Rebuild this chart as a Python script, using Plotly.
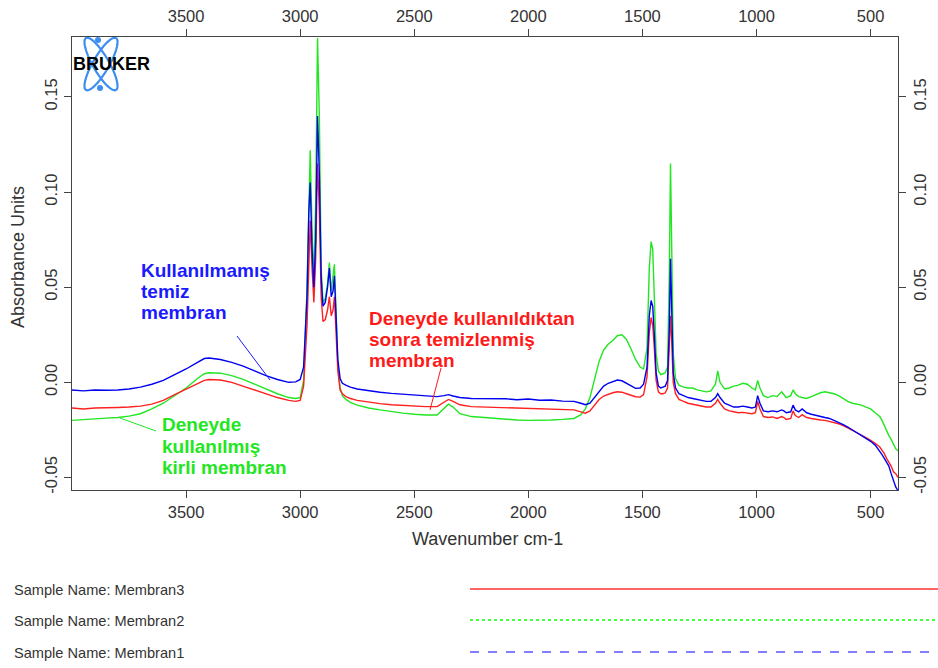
import numpy as np
import plotly.graph_objects as go

# ---------------- data ----------------
wavenumber = [
    4000, 3950, 3900, 3850, 3800, 3750, 3700, 3650, 3600, 3550,
    3500, 3450, 3420, 3400, 3350, 3300, 3250, 3200, 3150, 3100,
    3050, 3020, 3000, 2985, 2970, 2962, 2956, 2948, 2940, 2932,
    2924, 2916, 2908, 2900, 2890, 2880, 2872, 2864, 2856, 2850,
    2843, 2835, 2825, 2815, 2800, 2780, 2750, 2700, 2650, 2600,
    2550, 2500, 2450, 2400, 2370, 2350, 2330, 2300, 2250, 2200,
    2150, 2100, 2050, 2000, 1950, 1900, 1850, 1800, 1770, 1750,
    1730, 1710, 1690, 1670, 1650, 1630, 1610, 1590, 1570, 1550,
    1530, 1510, 1495, 1480, 1470, 1462, 1455, 1448, 1440, 1430,
    1420, 1410, 1400, 1390, 1382, 1377, 1372, 1365, 1355, 1340,
    1320, 1300, 1280, 1260, 1240, 1220, 1200, 1180, 1170, 1160,
    1140, 1120, 1100, 1080, 1060, 1040, 1020, 1005, 995, 985,
    970, 950, 930, 910, 890, 880, 870, 850, 840, 830,
    815, 800, 780, 760, 740, 720, 700, 680, 660, 640,
    620, 600, 580, 560, 540, 520, 500, 480, 460, 450,
    440, 430, 420, 410, 400, 390, 380,
]

membran1 = [  # blue - Kullanılmamış temiz membran
    -0.0040, -0.0045, -0.0040, -0.0042, -0.0040, -0.0035, -0.0025, -0.0010, 0.0010, 0.0040,
    0.0070, 0.0105, 0.0125, 0.0128, 0.0120, 0.0105, 0.0085, 0.0060, 0.0035, 0.0015,
    0.0000, 0.0002, 0.0015, 0.0080, 0.0450, 0.0900, 0.1050, 0.0700, 0.0500, 0.0750,
    0.1400, 0.1100, 0.0550, 0.0400, 0.0420, 0.0500, 0.0600, 0.0450, 0.0480, 0.0560,
    0.0350, 0.0120, 0.0020, -0.0005, -0.0015, -0.0025, -0.0035, -0.0045, -0.0052, -0.0058,
    -0.0062, -0.0066, -0.0070, -0.0075, -0.0070, -0.0065, -0.0072, -0.0080, -0.0085, -0.0085,
    -0.0088, -0.0086, -0.0092, -0.0088, -0.0094, -0.0093, -0.0099, -0.0100, -0.0110, -0.0118,
    -0.0110, -0.0080, -0.0045, -0.0020, -0.0005, 0.0005, 0.0012, 0.0008, -0.0005, -0.0020,
    -0.0032, -0.0030, -0.0010, 0.0080, 0.0350, 0.0430, 0.0400, 0.0250, 0.0050, -0.0020,
    -0.0030, -0.0025, -0.0020, 0.0010, 0.0300, 0.0650, 0.0350, 0.0050, -0.0030, -0.0060,
    -0.0070, -0.0080, -0.0085, -0.0090, -0.0095, -0.0100, -0.0100, -0.0080, -0.0060, -0.0080,
    -0.0110, -0.0120, -0.0130, -0.0130, -0.0125, -0.0130, -0.0135, -0.0130, -0.0070, -0.0110,
    -0.0150, -0.0155, -0.0150, -0.0155, -0.0145, -0.0150, -0.0160, -0.0155, -0.0120, -0.0145,
    -0.0155, -0.0140, -0.0160, -0.0168, -0.0175, -0.0180, -0.0185, -0.0190, -0.0200, -0.0210,
    -0.0222, -0.0235, -0.0250, -0.0265, -0.0280, -0.0295, -0.0310, -0.0330, -0.0360, -0.0380,
    -0.0400, -0.0420, -0.0440, -0.0480, -0.0520, -0.0550, -0.0570,
]

membran3 = [  # red - Deneyde kullanıldıktan sonra temizlenmiş membran
    -0.0135, -0.0140, -0.0135, -0.0135, -0.0132, -0.0130, -0.0125, -0.0115, -0.0095, -0.0065,
    -0.0035, -0.0005, 0.0010, 0.0015, 0.0012, 0.0000, -0.0020, -0.0040, -0.0060, -0.0080,
    -0.0095, -0.0100, -0.0095, -0.0020, 0.0300, 0.0700, 0.0850, 0.0600, 0.0420, 0.0650,
    0.1150, 0.0900, 0.0450, 0.0320, 0.0330, 0.0380, 0.0450, 0.0350, 0.0380, 0.0450,
    0.0280, 0.0060, -0.0040, -0.0060, -0.0075, -0.0085, -0.0095, -0.0105, -0.0112, -0.0118,
    -0.0122, -0.0125, -0.0128, -0.0128, -0.0105, -0.0090, -0.0100, -0.0118, -0.0128, -0.0130,
    -0.0132, -0.0132, -0.0133, -0.0135, -0.0137, -0.0140, -0.0142, -0.0145, -0.0155, -0.0162,
    -0.0150, -0.0120, -0.0090, -0.0072, -0.0062, -0.0055, -0.0050, -0.0052, -0.0060, -0.0068,
    -0.0076, -0.0078, -0.0065, 0.0030, 0.0260, 0.0340, 0.0300, 0.0180, 0.0010, -0.0050,
    -0.0060, -0.0060, -0.0055, -0.0030, 0.0200, 0.0350, 0.0220, 0.0000, -0.0060, -0.0090,
    -0.0100, -0.0110, -0.0115, -0.0120, -0.0125, -0.0130, -0.0130, -0.0110, -0.0090, -0.0110,
    -0.0140, -0.0150, -0.0155, -0.0160, -0.0158, -0.0160, -0.0165, -0.0160, -0.0100, -0.0140,
    -0.0180, -0.0185, -0.0182, -0.0190, -0.0180, -0.0185, -0.0195, -0.0190, -0.0150, -0.0175,
    -0.0185, -0.0170, -0.0185, -0.0190, -0.0195, -0.0198, -0.0200, -0.0205, -0.0210, -0.0218,
    -0.0228, -0.0240, -0.0252, -0.0262, -0.0275, -0.0290, -0.0305, -0.0320, -0.0340, -0.0355,
    -0.0375, -0.0400, -0.0420, -0.0440, -0.0470, -0.0480, -0.0500,
]

membran2 = [  # green - Deneyde kullanılmış kirli membran
    -0.0200, -0.0195, -0.0190, -0.0188, -0.0185, -0.0178, -0.0165, -0.0140, -0.0110, -0.0070,
    -0.0030, 0.0020, 0.0045, 0.0050, 0.0048, 0.0035, 0.0015, -0.0010, -0.0035, -0.0060,
    -0.0080, -0.0085, -0.0080, 0.0010, 0.0500, 0.1000, 0.1220, 0.0800, 0.0550, 0.0950,
    0.1810, 0.1400, 0.0600, 0.0420, 0.0440, 0.0520, 0.0630, 0.0480, 0.0550, 0.0620,
    0.0380, 0.0100, -0.0030, -0.0070, -0.0090, -0.0105, -0.0120, -0.0135, -0.0145, -0.0155,
    -0.0162, -0.0168, -0.0172, -0.0172, -0.0140, -0.0115, -0.0130, -0.0165, -0.0180, -0.0185,
    -0.0190, -0.0195, -0.0198, -0.0200, -0.0200, -0.0198, -0.0195, -0.0190, -0.0170, -0.0140,
    -0.0080, 0.0020, 0.0110, 0.0170, 0.0200, 0.0220, 0.0245, 0.0250, 0.0225, 0.0175,
    0.0120, 0.0080, 0.0070, 0.0180, 0.0600, 0.0740, 0.0700, 0.0450, 0.0150, 0.0060,
    0.0040, 0.0045, 0.0050, 0.0080, 0.0600, 0.1150, 0.0650, 0.0150, 0.0020, -0.0015,
    -0.0025, -0.0030, -0.0030, -0.0040, -0.0045, -0.0050, -0.0045, -0.0010, 0.0060, 0.0000,
    -0.0035, -0.0030, -0.0020, -0.0015, -0.0005, -0.0010, -0.0030, -0.0040, 0.0010, -0.0030,
    -0.0070, -0.0080, -0.0070, -0.0075, -0.0050, -0.0065, -0.0080, -0.0070, -0.0040, -0.0060,
    -0.0075, -0.0080, -0.0085, -0.0075, -0.0065, -0.0055, -0.0050, -0.0055, -0.0060, -0.0070,
    -0.0085, -0.0100, -0.0110, -0.0115, -0.0120, -0.0130, -0.0140, -0.0160, -0.0180, -0.0200,
    -0.0230, -0.0250, -0.0280, -0.0300, -0.0330, -0.0350, -0.0360,
]

x_ticks = [3500, 3000, 2500, 2000, 1500, 1000, 500]
y_ticks = [-0.05, 0.00, 0.05, 0.10, 0.15]
y_tick_text = ["-0.05", "0.00", "0.05", "0.10", "0.15"]
legend_names = ["Sample Name: Membran3", "Sample Name: Membran2", "Sample Name: Membran1"]
label_blue = ["Kullanılmamış", "temiz", "membran"]
label_red = ["Deneyde kullanıldıktan", "sonra temizlenmiş", "membran"]
label_green = ["Deneyde", "kullanılmış", "kirli membran"]

assert len(wavenumber) == len(membran1) == len(membran2) == len(membran3)

# ---------------- figure ----------------
W, H = 938, 668
L, R, T, B = 72, 40, 37, 178
PW, PH = W - L - R, H - T - B
FONT = "Liberation Sans, Arial, sans-serif"

def px(x):
    return (x - L) / PW

def py(y):
    return (H - B - y) / PH

X_RANGE = [4000, 380]
Y_RANGE = [-0.0566, 0.1815]

fig = go.Figure()
series = [
    (membran2, "#22e622", "Membran2"),
    (membran3, "#ff2020", "Membran3"),
    (membran1, "#0000f0", "Membran1"),
]
for vals, col, name in series:
    fig.add_trace(go.Scatter(x=wavenumber, y=vals, mode="lines", name=name,
                             line=dict(color=col, width=1.4), showlegend=False,
                             hoverinfo="x+y"))
# invisible trace to activate the top / right mirror axes
fig.add_trace(go.Scatter(x=wavenumber, y=membran1, xaxis="x2", yaxis="y2",
                         mode="lines", line=dict(color="rgba(0,0,0,0)", width=0),
                         showlegend=False, hoverinfo="skip"))

axis_common = dict(ticks="outside", ticklen=7, tickcolor="#444", tickwidth=1,
                   tickfont=dict(family=FONT, size=16.5, color="#333"),
                   showgrid=False, zeroline=False)

fig.update_layout(
    width=W, height=H,
    margin=dict(l=L, r=R, t=T, b=B, autoexpand=False),
    paper_bgcolor="white", plot_bgcolor="white",
    font=dict(family=FONT, color="#333"),
    xaxis=dict(range=X_RANGE, tickvals=x_ticks, showline=True, linecolor="#444",
               mirror=True, **axis_common),
    xaxis2=dict(range=X_RANGE, tickvals=x_ticks, overlaying="x", side="top",
                showline=False, **axis_common),
    yaxis=dict(range=Y_RANGE, tickvals=y_ticks, ticktext=y_tick_text, tickangle=-90,
               showline=True, linecolor="#444", mirror=True, **axis_common),
    yaxis2=dict(range=Y_RANGE, tickvals=y_ticks, ticktext=y_tick_text, tickangle=-90,
                overlaying="y", side="right", showline=False, **axis_common),
)

annotations = [
    dict(x=px(487), y=py(539), text="Wavenumber cm-1", textangle=0,
         font=dict(size=18, color="#333")),
    dict(x=px(18), y=py(257), text="Absorbance Units", textangle=-90,
         font=dict(size=18, color="#333")),
    dict(x=px(111), y=py(64), text="<b>BRUKER</b>",
         font=dict(size=18, color="black")),
]
for lines, x0, ys, col in [
    (label_blue, 139, [270, 291, 312], "#1a1aff"),
    (label_red, 367, [318, 339, 360], "#ff1a1a"),
    (label_green, 160, [425, 446, 467], "#22e622"),
]:
    for txt, yy in zip(lines, ys):
        annotations.append(dict(x=px(x0), y=py(yy), xanchor="left", text=f"<b>{txt}</b>",
                                font=dict(size=19, color=col)))
for name, yy in zip(legend_names, [590, 621, 653]):
    annotations.append(dict(x=px(12), y=py(yy), xanchor="left", text=name,
                            font=dict(size=14.6, color="#333")))
for a in annotations:
    a.setdefault("xanchor", "center")
    a.update(xref="paper", yref="paper", showarrow=False, yanchor="middle")
fig.update_layout(annotations=annotations)

shapes = []
# pointer lines
shapes.append(dict(type="line", x0=px(237), y0=py(336), x1=px(270), y1=py(380),
                   line=dict(color="#1a1aff", width=1)))
shapes.append(dict(type="line", x0=px(441), y0=py(368), x1=px(430), y1=py(410),
                   line=dict(color="#ff1a1a", width=1)))
shapes.append(dict(type="line", x0=px(156), y0=py(431), x1=px(120), y1=py(418),
                   line=dict(color="#22e622", width=1)))
# legend sample lines
shapes.append(dict(type="line", x0=px(470), y0=py(589), x1=px(938), y1=py(589),
                   line=dict(color="#ff3030", width=1.5)))
shapes.append(dict(type="line", x0=px(470), y0=py(620), x1=px(938), y1=py(620),
                   line=dict(color="#44ff44", width=2, dash="dot")))
shapes.append(dict(type="line", x0=px(470), y0=py(652), x1=px(938), y1=py(652),
                   line=dict(color="#8080ff", width=2, dash="dash")))

# BRUKER logo orbits (decoration)
cx, cy, a_ax, b_ax = 101, 64, 30, 8
t = np.linspace(0, 2 * np.pi, 60)
for ang in (np.radians(30), np.radians(-30)):
    ex = b_ax * np.cos(t)
    ey = a_ax * np.sin(t)
    rx = cx + ex * np.cos(ang) - ey * np.sin(ang)
    ry = cy + ex * np.sin(ang) + ey * np.cos(ang)
    path = "M " + " L ".join(f"{px(u):.5f},{py(v):.5f}" for u, v in zip(rx, ry)) + " Z"
    shapes.append(dict(type="path", path=path, xref="paper", yref="paper",
                       line=dict(color="#3d8ef0", width=2.2), layer="below"))
for (dx, dy) in [(98, 40), (100, 88)]:
    shapes.append(dict(type="circle", x0=px(dx - 3), x1=px(dx + 3), y0=py(dy - 3), y1=py(dy + 3),
                       fillcolor="#3d8ef0", line=dict(color="#3d8ef0", width=0)))
for s in shapes:
    s.setdefault("xref", "paper")
    s.setdefault("yref", "paper")
fig.update_layout(shapes=shapes)

fig.write_html(
    "out.html",
    config={"displayModeBar": False},
    post_script="document.body.style.margin='0';document.body.style.padding='0';"
                "document.documentElement.style.overflow='hidden';",
)
